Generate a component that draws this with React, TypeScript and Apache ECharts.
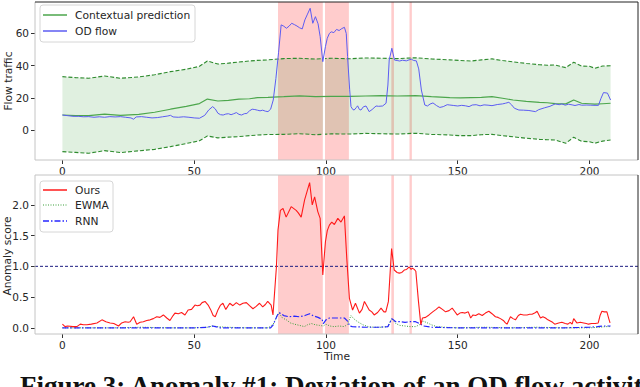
import React, { useEffect, useRef } from "react";
import * as echarts from "echarts";

// ---------- tick labels ----------
const xTicks = [0, 50, 100, 150, 200];
const flowTicks = [0, 20, 40, 60];
const scoreTicks = [0, 0.5, 1, 1.5, 2];

// ---------- top panel: contextual prediction band ----------
const bandX = [0, 5, 10, 16, 22, 29, 35, 41, 47, 52, 55, 59, 63, 67, 71, 74, 78, 84, 90, 96, 102, 109, 115, 121, 127, 134, 140, 147, 151, 155, 159, 163, 167, 171, 176, 181, 184, 187, 191, 194, 197, 200, 202, 205, 208];
const predMid = [9.4, 9.0, 9.0, 10.0, 9.2, 9.8, 11.1, 13.0, 14.8, 16.5, 19.3, 18.1, 18.5, 19.2, 19.5, 20.2, 20.4, 20.8, 21.3, 20.8, 21.0, 21.0, 21.2, 21.4, 21.2, 21.4, 20.8, 20.2, 20.0, 20.2, 20.4, 20.8, 19.8, 18.7, 17.9, 17.3, 17.0, 16.5, 16.3, 18.7, 16.7, 16.4, 16.1, 16.4, 16.7];
const predUpper = [33.2, 32.6, 32.2, 33.6, 32.2, 33.0, 34.4, 36.3, 37.8, 39.6, 42.9, 41.0, 41.6, 42.3, 42.9, 43.3, 43.6, 44.4, 44.6, 44.1, 44.6, 44.3, 44.8, 44.6, 44.4, 44.9, 44.2, 43.6, 43.2, 42.9, 43.6, 44.2, 43.2, 42.4, 41.4, 40.6, 40.3, 40.4, 38.8, 42.1, 39.8, 39.6, 38.4, 39.8, 40.0];
const predLower = [-13.3, -13.8, -14.3, -12.7, -13.9, -12.8, -11.9, -10.2, -8.3, -6.6, -3.6, -4.8, -4.3, -4.0, -3.4, -3.0, -2.7, -2.6, -2.2, -2.8, -2.3, -2.4, -2.0, -2.2, -2.4, -1.9, -2.6, -3.0, -3.4, -3.4, -2.8, -2.6, -3.4, -4.1, -5.0, -5.7, -5.9, -6.1, -8.1, -4.4, -6.9, -7.2, -8.1, -6.8, -6.1];

// ---------- top panel: OD flow [time, value] ----------
const odFlow: [number, number][] = [
  [0, 9.4], [2, 9.0], [4, 8.6], [6, 8.6], [8, 8.3], [10, 8.4], [12, 8.0], [14, 8.3], [16, 8.0], [18, 8.4], [20, 8.2], [22, 8.4], [24, 8.0], [26, 7.6], [27, 6.8], [28, 8.2], [30, 8.4], [32, 8.0], [34, 7.6], [36, 7.8], [38, 8.3], [40, 8.8], [41, 9.2], [42, 8.2], [44, 8.0], [46, 8.3], [48, 8.0], [50, 7.6], [52, 7.4], [54, 9.2], [55.5, 12.5], [57, 14.6], [58, 13.2], [59, 10.5], [60, 9.6], [61, 9.4], [62, 10.0], [63, 10.2], [64, 9.6], [65, 10.2], [66, 10.9], [67, 9.8], [68, 9.4], [69, 10.2], [70, 10.4], [71, 12.0], [72, 13.0], [73, 12.8], [74, 12.4], [75, 12.0], [76, 12.4], [77, 11.8], [78, 11.5], [79, 13.0], [80, 18.7], [81, 32], [82, 48], [83, 65.3], [84, 64.5], [85, 63.2], [86, 64.5], [87, 66.3], [88, 65.5], [89, 64.6], [90, 63.5], [91, 62.8], [92, 68.4], [93, 72], [94, 75.6], [95, 66.3], [96, 70.4], [97, 66], [97.8, 58], [98.8, 42.5], [99.8, 51.8], [100.5, 57], [101.3, 60], [102, 61], [103, 60.5], [104, 62.5], [105, 61.8], [106, 63], [107, 63.8], [107.7, 60], [108.2, 45.6], [109, 25], [109.5, 14.6], [110.2, 12.8], [110.7, 12.5], [111.5, 14.0], [112, 15.1], [112.7, 12.8], [113.3, 12.5], [114.2, 14.5], [115.2, 15.0], [116.4, 11.5], [117.5, 12.8], [119, 15.0], [120, 14.8], [121.5, 15.0], [122.8, 16.7], [123.5, 28], [124, 43.5], [125, 50.8], [126, 43.5], [127, 43.2], [128, 42.9], [129, 43.4], [130.5, 43.0], [131.5, 43.6], [132.4, 44.0], [133.3, 43.2], [134.3, 43.0], [135.2, 38], [136.2, 24.9], [137.5, 15.6], [138.5, 15.0], [139.5, 16.2], [140.6, 16.9], [142, 15.2], [143.2, 14.1], [144.5, 14.6], [146, 15.8], [147, 15.6], [148.5, 15.3], [150, 15.0], [151.5, 15.4], [153, 15.1], [154.3, 14.6], [155.5, 15.6], [157, 15.8], [158.5, 15.1], [160, 15.7], [161.5, 15.5], [163, 15.2], [165, 15.9], [167, 16.3], [168.1, 16.7], [169.4, 17.3], [170.5, 15.6], [171.5, 13.6], [173.2, 12.5], [175, 12.4], [177, 12.2], [179.5, 11.5], [180.7, 12.7], [183, 13.9], [185, 14.8], [187, 16.3], [188.5, 15.8], [189.5, 16.3], [190.8, 15.5], [192, 16.1], [193.4, 15.7], [194.5, 15.3], [196, 15.9], [197, 15.5], [199, 15.6], [200.5, 15.5], [202.1, 15.4], [203.4, 15.4], [204.3, 19.5], [205.3, 23.3], [206.8, 23.0], [208, 18.7]
];

// ---------- bottom panel: anomaly scores [time, score] ----------
const oursScore: [number, number][] = [
  [0, 0.06], [1, 0.02], [2, 0.03], [4, 0.02], [5.5, 0.02], [6.8, 0.06], [8, 0.05], [9.3, 0.05], [11, 0.06], [13.1, 0.08], [15, 0.13], [16.5, 0.1], [18.1, 0.08], [19.5, 0.07], [21.3, 0.03], [22.5, 0.08], [23.8, 0.1], [25, 0.09], [25.7, 0.1], [27, 0.18], [28.2, 0.06], [29.5, 0.09], [30.7, 0.1], [32, 0.12], [33.3, 0.13], [34.5, 0.15], [35.8, 0.18], [37, 0.17], [38.3, 0.21], [39.6, 0.16], [40.8, 0.12], [42, 0.2], [42.7, 0.24], [44, 0.23], [45.2, 0.25], [46.5, 0.21], [47.7, 0.29], [49, 0.3], [50.3, 0.37], [51.2, 0.36], [52.2, 0.37], [53, 0.41], [54.1, 0.43], [55.3, 0.37], [56.2, 0.3], [57.2, 0.2], [58, 0.18], [59.1, 0.3], [60, 0.37], [60.9, 0.4], [62, 0.3], [63.5, 0.4], [64.7, 0.36], [66, 0.41], [67.3, 0.37], [68.5, 0.4], [69.8, 0.41], [71, 0.36], [72.3, 0.31], [73.5, 0.35], [74.8, 0.4], [76, 0.34], [77, 0.38], [77.9, 0.43], [79.2, 0.37], [79.9, 0.21], [81.2, 0.99], [81.8, 1.59], [82.7, 1.91], [83.7, 1.94], [84.9, 1.8], [86.8, 1.97], [88.7, 1.91], [89.5, 1.87], [90.6, 1.8], [91.9, 2.08], [93.8, 2.36], [94.8, 2.0], [95.7, 2.13], [96.9, 1.89], [97.8, 1.78], [98.8, 0.86], [99.8, 1.4], [100.5, 1.58], [101.3, 1.67], [102.2, 1.72], [103.2, 1.68], [104.5, 1.78], [105.7, 1.72], [107, 1.82], [107.9, 1.13], [108.9, 0.48], [110.1, 0.29], [111.2, 0.4], [112.7, 0.24], [113.7, 0.3], [114.6, 0.43], [115.5, 0.36], [116.4, 0.29], [117.4, 0.26], [118.3, 0.21], [119.6, 0.25], [120.9, 0.32], [122, 0.26], [122.7, 0.26], [123.7, 0.43], [124.9, 1.29], [125.9, 0.94], [127, 0.9], [127.8, 0.89], [128.8, 0.9], [129.7, 0.94], [130.6, 0.95], [131.6, 0.99], [132.3, 0.95], [132.8, 0.97], [133.5, 0.95], [134.1, 0.92], [135.1, 0.43], [136, 0.05], [136.6, 0.16], [137.8, 0.17], [139.1, 0.21], [140.5, 0.26], [141.8, 0.3], [142.9, 0.34], [144.2, 0.3], [145.4, 0.26], [146.7, 0.28], [147.9, 0.32], [148.8, 0.27], [149.8, 0.21], [150.8, 0.24], [151.7, 0.25], [152.8, 0.24], [154, 0.26], [154.9, 0.16], [155.8, 0.21], [156.8, 0.2], [158, 0.23], [159.3, 0.2], [160.5, 0.24], [161.8, 0.27], [163, 0.23], [164.3, 0.18], [165.3, 0.17], [166.2, 0.15], [167.3, 0.12], [168.1, 0.08], [168.7, 0.06], [170, 0.18], [171, 0.15], [171.9, 0.13], [173, 0.2], [173.8, 0.22], [175, 0.21], [176.3, 0.21], [177.3, 0.22], [178.2, 0.22], [179.2, 0.24], [180.1, 0.27], [181.4, 0.16], [182.3, 0.18], [183.3, 0.16], [184.2, 0.13], [185.1, 0.11], [186, 0.09], [186.8, 0.06], [188.3, 0.08], [189.5, 0.09], [190.8, 0.07], [191.8, 0.06], [192.7, 0.09], [193.4, 0.06], [194, 0.15], [195.2, 0.08], [196.5, 0.09], [197.8, 0.08], [198.8, 0.07], [199.6, 0.06], [200.8, 0.07], [202.2, 0.07], [203.3, 0.08], [204, 0.2], [204.7, 0.27], [205.6, 0.26], [206.6, 0.26], [207.3, 0.15], [207.8, 0.08]
];
const ewmaScore: [number, number][] = [
  [0, 0.0], [10, 0.0], [20, 0.0], [30, 0.01], [40, 0.0], [50, 0.0], [55, 0.01], [57, 0.03], [59, 0.02], [62, 0.01], [70, 0.0], [78, 0.0], [80, 0.06], [81.5, 0.2], [82.2, 0.24], [83.5, 0.16], [85, 0.13], [86.5, 0.08], [88, 0.06], [90, 0.04], [91.8, 0.02], [93, 0.05], [94.5, 0.07], [96, 0.05], [97.5, 0.04], [99, 0.03], [100, 0.06], [101.5, 0.03], [103, 0.02], [105, 0.03], [107, 0.02], [108.2, 0.06], [109.5, 0.2], [110.5, 0.15], [112, 0.1], [114, 0.05], [116, 0.02], [118, 0.01], [121, 0.01], [123.5, 0.02], [125, 0.15], [126.5, 0.07], [128, 0.04], [130, 0.03], [132, 0.02], [134, 0.02], [135.5, 0.05], [136.8, 0.11], [138, 0.09], [140, 0.05], [142, 0.02], [145, 0.01], [150, 0.0], [160, 0.01], [170, 0.0], [180, 0.01], [190, 0.0], [200, 0.0], [204, 0.01], [206, 0.02], [208, 0.02]
];
const rnnScore: [number, number][] = [
  [0, 0.0], [10, 0.0], [20, 0.0], [30, 0.0], [40, 0.0], [50, 0.0], [55, 0.01], [57, 0.03], [58, 0.02], [60, 0.0], [70, 0.0], [79, 0.0], [80, 0.05], [81.5, 0.2], [82.2, 0.25], [84, 0.2], [86, 0.18], [88, 0.19], [90, 0.18], [92, 0.2], [93.8, 0.23], [95, 0.2], [97, 0.17], [98.5, 0.14], [99, 0.07], [100, 0.13], [101.3, 0.16], [103, 0.16], [105, 0.16], [107, 0.16], [108.2, 0.11], [109, 0.03], [110, 0.02], [115, 0.01], [120, 0.01], [123.5, 0.02], [125, 0.15], [126.5, 0.1], [128, 0.1], [130, 0.09], [132, 0.1], [134, 0.1], [135.5, 0.07], [137, 0.03], [140, 0.01], [150, 0.0], [160, 0.0], [170, 0.0], [180, 0.0], [190, 0.0], [200, 0.01], [203, 0.02], [205, 0.03], [208, 0.03]
];

// ---------- annotations ----------
const anomalySpans: [number, number][] = [[81.8, 98.8], [99.6, 108.7], [124.8, 125.8], [131.7, 132.6]];
const gapLineX = 99.2;
const threshold = 1.0;
const xRange: [number, number] = [-10.4, 218.4];

const FONT = "DejaVu Sans";
const TXT = "#262626";

export default function App() {
  const ref = useRef<HTMLDivElement>(null);
  useEffect(() => {
    if (!ref.current) return;
    const chart = echarts.init(ref.current, undefined, { renderer: "svg" });

    const axisLabelBase = { fontFamily: FONT, fontSize: 10.5, color: TXT };
    const mkX = (gi: number) => ({
      type: "value", gridIndex: gi, min: xRange[0], max: xRange[1],
      axisLine: { show: false, onZero: false },
      axisTick: { show: true, length: 4, lineStyle: { color: "#333", width: 1 }, customValues: xTicks },
      axisLabel: { ...axisLabelBase, margin: 5, customValues: xTicks },
      splitLine: { show: false },
    });
    const spanArea = (xi: number) => ({
      type: "line", xAxisIndex: xi, yAxisIndex: xi, z: 1, silent: true,
      data: [[0, 0]], symbol: "none", lineStyle: { opacity: 0 },
      markArea: {
        silent: true,
        itemStyle: { color: "rgba(255,0,0,0.2)" },
        data: anomalySpans.map(([a, b]) => [{ xAxis: a }, { xAxis: b }]),
      },
    });
    const gapLine = (xi: number) => ({
      type: "line", xAxisIndex: xi, yAxisIndex: xi, z: 3, silent: true,
      data: [[0, 0]], symbol: "none", lineStyle: { opacity: 0 },
      markLine: {
        silent: true, symbol: "none", label: { show: false },
        lineStyle: { color: "#ffffff", width: 2, type: "solid" },
        data: [{ xAxis: gapLineX }],
      },
    });

    const legendLine = (x: number, y: number, color: string, dash: any, w = 1.5) => ({
      type: "line", z: 101, shape: { x1: x, y1: y, x2: x + 24, y2: y },
      style: { stroke: color, lineWidth: w, lineDash: dash },
    });
    const legendText = (x: number, y: number, t: string) => ({
      type: "text", z: 101, x, y,
      style: { text: t, fontFamily: FONT, fontSize: 10.7, fill: TXT, textVerticalAlign: "middle", textAlign: "left" },
    });
    const hline = (x1: number, y1: number, x2: number, y2: number, color: string) => ({
      type: "line", z: 100, silent: true, shape: { x1, y1, x2, y2 }, style: { stroke: color, lineWidth: 1 },
    });

    const G1 = { l: 35, t: 2, r: 638, b: 160 };
    const G2 = { l: 35, t: 175, r: 638, b: 334 };

    chart.setOption({
      animation: false,
      backgroundColor: "#ffffff",
      grid: [
        { left: G1.l, top: G1.t, width: G1.r - G1.l, height: G1.b - G1.t },
        { left: G2.l, top: G2.t, width: G2.r - G2.l, height: G2.b - G2.t },
      ],
      xAxis: [mkX(0), mkX(1)],
      yAxis: [
        {
          type: "value", gridIndex: 0, min: -18.5, max: 79.5,
          axisLine: { show: false, onZero: false },
          axisTick: { show: true, length: 4, lineStyle: { color: "#333" }, customValues: flowTicks },
          axisLabel: { ...axisLabelBase, margin: 6, customValues: flowTicks },
          splitLine: { show: false },
        },
        {
          type: "value", gridIndex: 1, min: -0.1, max: 2.485,
          axisLine: { show: false, onZero: false },
          axisTick: { show: true, length: 4, lineStyle: { color: "#333" }, customValues: scoreTicks },
          axisLabel: { ...axisLabelBase, margin: 6, customValues: scoreTicks, formatter: (v: number) => v.toFixed(1) },
          splitLine: { show: false },
        },
      ],
      series: [
        spanArea(0),
        {
          name: "band", type: "custom", xAxisIndex: 0, yAxisIndex: 0, z: 2, silent: true,
          data: [[0, 0]],
          renderItem: (_params: any, api: any) => {
            const pts: number[][] = [];
            bandX.forEach((x, i) => pts.push(api.coord([x, predUpper[i]])));
            for (let i = bandX.length - 1; i >= 0; i--) pts.push(api.coord([bandX[i], predLower[i]]));
            return { type: "polygon", shape: { points: pts }, style: { fill: "rgba(0,128,0,0.12)", stroke: "none" } };
          },
        },
        gapLine(0),
        {
          name: "upper", type: "line", xAxisIndex: 0, yAxisIndex: 0, z: 4, symbol: "none",
          lineStyle: { color: "#2e8b2e", width: 1.1, type: [4, 2] },
          data: bandX.map((x, i) => [x, predUpper[i]]),
        },
        {
          name: "lower", type: "line", xAxisIndex: 0, yAxisIndex: 0, z: 4, symbol: "none",
          lineStyle: { color: "#2e8b2e", width: 1.1, type: [4, 2] },
          data: bandX.map((x, i) => [x, predLower[i]]),
        },
        {
          name: "Contextual prediction", type: "line", xAxisIndex: 0, yAxisIndex: 0, z: 5, symbol: "none",
          lineStyle: { color: "#4ca64c", width: 1.2 },
          data: bandX.map((x, i) => [x, predMid[i]]),
        },
        {
          name: "OD flow", type: "line", xAxisIndex: 0, yAxisIndex: 0, z: 6, symbol: "none",
          lineStyle: { color: "#5c5cf2", width: 1 },
          data: odFlow,
        },
        spanArea(1),
        gapLine(1),
        {
          name: "threshold", type: "line", xAxisIndex: 1, yAxisIndex: 1, z: 4, symbol: "none", silent: true,
          lineStyle: { color: "#1c1c80", width: 1, type: [3, 2] },
          data: [[xRange[0], threshold], [xRange[1], threshold]],
        },
        {
          name: "EWMA", type: "line", xAxisIndex: 1, yAxisIndex: 1, z: 5, symbol: "none",
          lineStyle: { color: "#3aa03a", width: 1, type: [1, 1.5] },
          data: ewmaScore,
        },
        {
          name: "RNN", type: "line", xAxisIndex: 1, yAxisIndex: 1, z: 5, symbol: "none",
          lineStyle: { color: "#2626ff", width: 1.2, type: [6, 2, 1.5, 2] },
          data: rnnScore,
        },
        {
          name: "Ours", type: "line", xAxisIndex: 1, yAxisIndex: 1, z: 6, symbol: "none",
          lineStyle: { color: "#ff1a1a", width: 1.1 },
          data: oursScore,
        },
      ],
      graphic: [
        // frames
        hline(G1.l, G1.b, G1.r, G1.b, "#c4c4c4"),
        hline(G1.l, G1.t, G1.l, G1.b, "#c4c4c4"),
        hline(G1.l, G1.t, G1.r, G1.t, "#222222"),
        hline(G1.r, G1.t, G1.r, G1.b, "#222222"),
        hline(G2.l, G2.b, G2.r, G2.b, "#c4c4c4"),
        hline(G2.l, G2.t, G2.l, G2.b, "#c4c4c4"),
        hline(G2.l, G2.t, G2.r, G2.t, "#c4c4c4"),
        hline(G2.r, G2.t, G2.r, G2.b, "#222222"),
        // top legend
        { type: "rect", z: 100, shape: { x: 40, y: 5, width: 155, height: 37, r: 3 }, style: { fill: "rgba(255,255,255,0.85)", stroke: "#d6d6d6", lineWidth: 1 } },
        legendLine(43, 15, "#4ca64c", null),
        legendText(75, 15, "Contextual prediction"),
        legendLine(43, 31, "#5c5cf2", null),
        legendText(75, 31, "OD flow"),
        // bottom legend
        { type: "rect", z: 100, shape: { x: 40, y: 181, width: 73, height: 51, r: 3 }, style: { fill: "rgba(255,255,255,0.85)", stroke: "#d6d6d6", lineWidth: 1 } },
        legendLine(43, 190, "#ff1a1a", null),
        legendText(75, 190, "Ours"),
        legendLine(43, 205, "#3aa03a", [1, 1.5], 1.2),
        legendText(75, 205, "EWMA"),
        legendLine(43, 221, "#2626ff", [6, 2, 1.5, 2], 1.4),
        legendText(75, 221, "RNN"),
        // axis titles
        {
          type: "text", x: 8, y: 81, rotation: Math.PI / 2,
          style: { text: "Flow traffic", fontFamily: FONT, fontSize: 10.7, fill: TXT, textAlign: "center", textVerticalAlign: "middle" },
        },
        {
          type: "text", x: 7, y: 256, rotation: Math.PI / 2,
          style: { text: "Anomaly score", fontFamily: FONT, fontSize: 10.7, fill: TXT, textAlign: "center", textVerticalAlign: "middle" },
        },
        {
          type: "text", x: 337, y: 356,
          style: { text: "Time", fontFamily: FONT, fontSize: 10.7, fill: TXT, textAlign: "center", textVerticalAlign: "middle" },
        },
        // caption (cropped by the image edge, as in the reference)
        {
          type: "text", x: 20, y: 385.5,
          style: { text: "Figure 3: Anomaly #1: Deviation of an OD flow activity", fontFamily: "Liberation Serif", fontWeight: "bold", fontSize: 27, fill: "#111", textAlign: "left", textVerticalAlign: "middle" },
        },
      ],
    });
    return () => chart.dispose();
  }, []);
  return <div ref={ref} style={{ position: "absolute", left: 0, top: 0, width: 640, height: 387, background: "#fff" }} />;
}
